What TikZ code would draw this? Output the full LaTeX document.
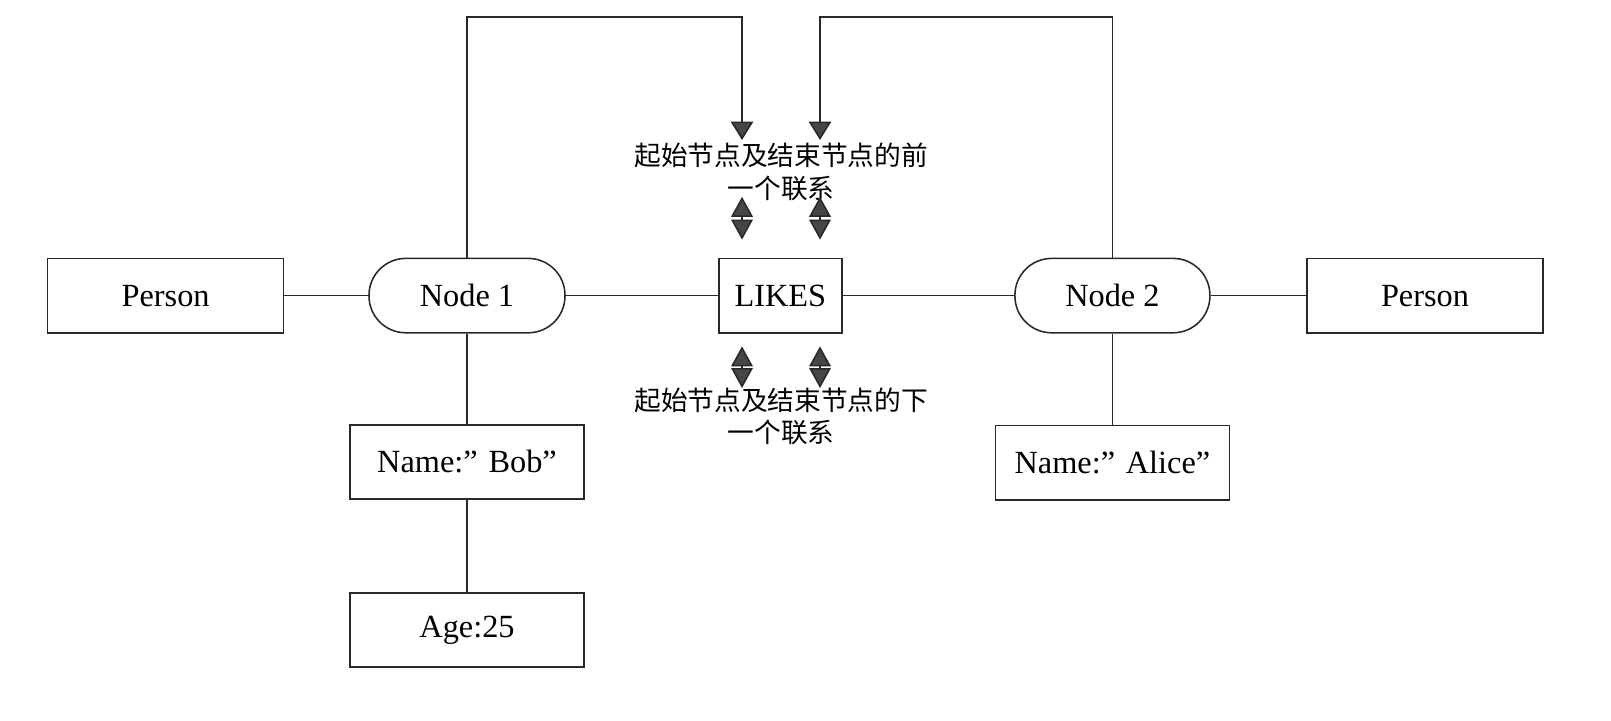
\documentclass[tikz,border=0pt]{standalone}
\usepackage{fontspec}
\setmainfont{Liberation Serif}
\newfontfamily\cjkfont{Noto Sans CJK SC}
\usepackage{tikz}
\usetikzlibrary{arrows.meta}
\definecolor{linegray}{RGB}{40, 40, 40}
\definecolor{tipgray}{RGB}{70, 70, 70}

\tikzset{
	propbox/.style={draw=linegray, line width=1.1pt, minimum width=5.9cm, minimum height=1.86cm,
		font=\fontsize{23}{27}\selectfont, inner sep=0pt},
	pillbox/.style={propbox, minimum width=4.9cm, rounded corners=0.92cm},
	link/.style={draw=linegray, line width=1.1pt},
	flow/.style={link, -{Triangle[width=0.56cm, length=0.46cm, fill=tipgray]}},
	twoway/.style={link, {Triangle[width=0.54cm, length=0.5cm, fill=tipgray]}-{Triangle[width=0.54cm, length=0.5cm, fill=tipgray]}},
	note/.style={font=\cjkfont\fontsize{19}{23.4}\selectfont, align=center, inner sep=0pt}
}

\begin{document}
\begin{tikzpicture}
			\def\rowy{10.61}
			\def\topy{17.57}

			\useasboundingbox (0,0) rectangle (40.275,18);

			% main row
			\node[propbox] (personL) at (4.14, \rowy) {Person};
			\node[pillbox] (node1) at (11.675, \rowy) {Node 1};
			\node[propbox, minimum width=3.08cm] (likes) at (19.51, \rowy) {LIKES};
			\node[pillbox, minimum width=4.875cm] (node2) at (27.81, \rowy) {Node 2};
			\node[propbox] (personR) at (35.625, \rowy) {Person};

			% properties
			\node[propbox, minimum width=5.85cm] (bob) at (11.675, 6.45) {Name:” Bob”};
			\node[propbox, minimum width=5.85cm] (age) at (11.675, 2.25) {Age:25};
			\node[propbox, minimum width=5.85cm] (alice) at (27.81, 6.43) {Name:” Alice”};

			% notes
			\node[note] (prevtxt) at (19.53, 13.71) {起始节点及结束节点的前\\一个联系};
			\node[note] (nexttxt) at (19.53, 7.59) {起始节点及结束节点的下\\一个联系};

			\coordinate (top) at (0, \topy);
			\coordinate (tipA) at (18.55, 14.5);
			\coordinate (tipB) at (20.5, 14.5);

			\draw[link] (personL) -- (node1);
			\draw[link] (node1) -- (likes);
			\draw[link] (likes) -- (node2);
			\draw[link] (node2) -- (personR);
			\draw[link] (node1) -- (bob);
			\draw[link] (bob) -- (age);
			\draw[link] (node2) -- (alice);

			\draw[flow] (node1.north) -- (node1.north |- top) -| (tipA);
			\draw[flow] (node2.north) -- (node2.north |- top) -| (tipB);

			\draw[twoway] (tipA |- 0,13.08) -- ([yshift=4.5mm]likes.north -| tipA);
			\draw[twoway] (tipB |- 0,13.08) -- ([yshift=4.5mm]likes.north -| tipB);
			\draw[twoway] ([yshift=-3.2mm]likes.south -| tipA) -- (tipA |- 0,8.3);
			\draw[twoway] ([yshift=-3.2mm]likes.south -| tipB) -- (tipB |- 0,8.3);

		\end{tikzpicture}
\end{document}
